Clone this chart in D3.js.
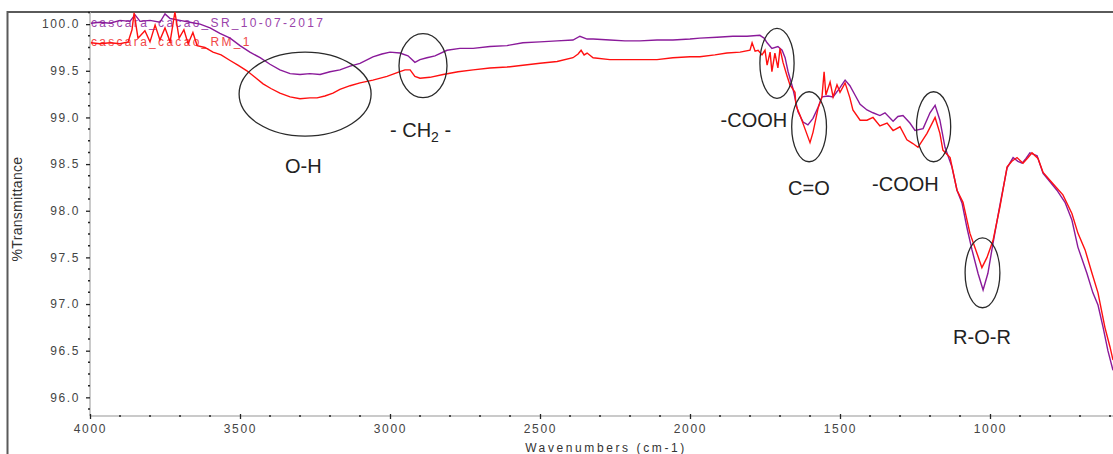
<!DOCTYPE html>
<html>
<head>
<meta charset="utf-8">
<script src="https://cdn.jsdelivr.net/npm/d3@7/dist/d3.min.js"></script>
<style>
  html, body { margin: 0; padding: 0; background: #fff; overflow: hidden; }
  svg { display: block; font-family: "Liberation Sans", Arial, sans-serif; }
</style>
</head>
<body>
<svg id="chart" width="1113" height="454"></svg>
<script>
// FTIR spectra: wavenumber (cm-1) and %Transmittance
const srWavenumber = [3997,3967,3933,3900,3867,3850,3833,3800,3767,3750,3733,3700,3667,3633,3600,3567,3533,3500,3467,3433,3400,3367,3333,3300,3267,3233,3200,3167,3133,3100,3057,3027,3000,2967,2940,2917,2900,2877,2850,2810,2767,2723,2667,2610,2557,2500,2443,2390,2367,2343,2323,2267,2217,2167,2110,2057,2000,1967,1910,1857,1810,1767,1753,1743,1727,1707,1693,1683,1673,1657,1640,1623,1607,1590,1573,1560,1540,1523,1500,1483,1467,1450,1433,1410,1390,1367,1350,1323,1307,1290,1267,1250,1223,1200,1183,1167,1150,1127,1110,1093,1077,1060,1040,1023,1007,990,967,943,923,907,893,880,867,843,823,800,777,750,727,707,677,657,640,623,607,590];
const srTransmittance = [100.01,100.02,100.01,100.04,100.03,100.10,100.03,100.04,100.02,100.11,100.06,100.04,100.02,100.00,99.96,99.90,99.85,99.77,99.70,99.64,99.57,99.51,99.47,99.46,99.47,99.46,99.49,99.51,99.55,99.58,99.65,99.68,99.70,99.69,99.66,99.59,99.62,99.64,99.66,99.72,99.74,99.74,99.76,99.77,99.80,99.81,99.82,99.83,99.87,99.84,99.84,99.83,99.82,99.82,99.83,99.83,99.84,99.85,99.86,99.87,99.87,99.88,99.85,99.80,99.74,99.76,99.72,99.64,99.49,99.31,99.06,98.95,98.92,98.99,99.11,99.22,99.23,99.22,99.32,99.40,99.34,99.24,99.14,99.08,99.05,99.02,99.05,98.96,99.01,99.02,98.94,98.86,98.88,99.05,99.13,98.97,98.68,98.47,98.22,98.08,97.82,97.58,97.33,97.15,97.33,97.65,98.06,98.46,98.57,98.53,98.51,98.56,98.62,98.59,98.40,98.31,98.22,98.09,97.90,97.61,97.33,97.12,96.99,96.75,96.50,96.29];

const rmWavenumber = [3997,3967,3933,3900,3873,3860,3853,3840,3817,3800,3783,3767,3750,3733,3717,3703,3687,3673,3657,3643,3617,3590,3563,3533,3507,3477,3450,3423,3397,3367,3333,3300,3267,3243,3217,3190,3167,3133,3100,3057,3010,2967,2950,2933,2917,2900,2867,2823,2773,2723,2667,2610,2557,2500,2443,2390,2373,2363,2353,2343,2323,2267,2217,2167,2110,2057,2000,1967,1917,1877,1833,1800,1793,1783,1773,1760,1750,1743,1733,1727,1717,1707,1700,1690,1677,1667,1650,1647,1633,1617,1600,1590,1573,1560,1553,1547,1533,1523,1510,1500,1483,1467,1457,1433,1410,1390,1367,1343,1323,1300,1277,1257,1240,1210,1183,1167,1157,1133,1110,1090,1067,1043,1027,1010,990,967,943,927,910,890,873,860,840,823,790,757,727,707,683,660,640,617,600,590];
const rmTransmittance = [99.80,99.79,99.80,99.79,99.81,99.94,100.12,99.85,99.93,99.81,99.99,99.83,99.96,99.81,100.13,99.85,99.94,99.79,99.91,99.77,99.75,99.70,99.67,99.61,99.56,99.50,99.43,99.36,99.31,99.26,99.22,99.20,99.21,99.21,99.23,99.26,99.30,99.34,99.37,99.40,99.44,99.49,99.51,99.51,99.44,99.42,99.43,99.46,99.49,99.51,99.53,99.54,99.56,99.58,99.60,99.64,99.68,99.72,99.67,99.69,99.64,99.62,99.62,99.62,99.62,99.64,99.65,99.65,99.67,99.69,99.70,99.72,99.80,99.71,99.72,99.67,99.72,99.56,99.70,99.49,99.69,99.53,99.74,99.59,99.45,99.35,99.27,99.13,99.02,98.88,98.73,98.84,99.10,99.22,99.49,99.24,99.38,99.22,99.35,99.27,99.37,99.21,99.08,98.97,98.97,99.00,98.91,98.94,98.86,98.90,98.76,98.72,98.68,98.83,99.00,98.83,98.65,98.57,98.22,98.09,97.76,97.54,97.39,97.50,97.68,98.04,98.47,98.53,98.57,98.51,98.57,98.62,98.56,98.41,98.29,98.17,97.97,97.76,97.58,97.33,97.12,96.75,96.54,96.40];

const seriesNames = ["cascara_cacao_SR_10-07-2017", "cascara_cacao_RM_1"];
const seriesColors = ["#8a1a9a", "#ff1010"];

const yTickValues = [96.0, 96.5, 97.0, 97.5, 98.0, 98.5, 99.0, 99.5, 100.0];
const xTickValues = [4000, 3500, 3000, 2500, 2000, 1500, 1000];

// Band assignments: ellipse centre and half-widths in data units, label anchor
const bandLabels = ["O-H", "- CH2 -", "-COOH", "C=O", "-COOH", "R-O-R"];
const bandCenterW = [3283, 2890, 1710, 1603, 1188, 1025];
const bandCenterT = [99.25, 99.555, 99.58, 98.90, 98.90, 97.335];
const bandRadiusW = [220, 80, 57, 58, 57, 58];
const bandRadiusT = [0.45, 0.343, 0.375, 0.375, 0.375, 0.375];
const bandLabelW = [3350, 3000, 1898, 1673, 1393, 1123];
const bandLabelT = [98.40, 98.79, 98.895, 98.166, 98.21, 96.57];

const svg = d3.select("#chart");

const x = d3.scaleLinear().domain([4000, 400]).range([90, 1170]);
const y = d3.scaleLinear().domain([100.13, 95.8]).range([12, 416]);

// outer frame
svg.append("rect")
  .attr("x", 7.5).attr("y", 12).attr("width", 1200).attr("height", 500)
  .attr("fill", "none").attr("stroke", "#5a5a5a").attr("stroke-width", 2);

// legend names, drawn beneath the traces
const legend = svg.append("g");
legend.append("text").attr("x", 91).attr("y", 27)
  .attr("fill", "#9a44aa").attr("font-size", 12).attr("letter-spacing", 2.3)
  .text(seriesNames[0]);
legend.append("text").attr("x", 91).attr("y", 46)
  .attr("fill", "#f04848").attr("font-size", 12).attr("letter-spacing", 2.3)
  .text(seriesNames[1]);

// axes
const axisColor = "#b8b8b8";
const yAxisG = svg.append("g").attr("transform", "translate(90,0)");
yAxisG.append("line").attr("x1", 0).attr("x2", 0).attr("y1", 12).attr("y2", 416)
  .attr("stroke", axisColor).attr("stroke-width", 1.5);
const yMinor = d3.range(95.875, 100.13, 0.125).filter(v => Math.abs((v * 2) - Math.round(v * 2)) > 1e-6);
yAxisG.selectAll(".ymin").data(yMinor).join("line")
  .attr("x1", -2).attr("x2", 0).attr("y1", d => y(d)).attr("y2", d => y(d))
  .attr("stroke", "#222").attr("stroke-width", 1.5);
const yAxis = d3.axisLeft(y).tickValues(yTickValues).tickFormat(d3.format(".1f")).tickSize(4).tickPadding(6);
const yAx = svg.append("g").attr("transform", "translate(90,0)").call(yAxis);
yAx.select(".domain").remove();
yAx.selectAll(".tick line").attr("stroke", "#222").attr("stroke-width", 1.3);
yAx.selectAll(".tick text").attr("fill", "#444").attr("font-size", 12)
  .attr("letter-spacing", 1.6).attr("font-family", "Liberation Sans, Arial, sans-serif");

const xAxisG = svg.append("g").attr("transform", "translate(0,416)");
xAxisG.append("line").attr("x1", 90).attr("x2", 1113).attr("y1", 0).attr("y2", 0)
  .attr("stroke", axisColor).attr("stroke-width", 1.5);
const xMinor = d3.range(3900, 500, -100).filter(v => v % 500 !== 0);
xAxisG.selectAll(".xmin").data(xMinor).join("line")
  .attr("x1", d => x(d)).attr("x2", d => x(d)).attr("y1", -1).attr("y2", 1)
  .attr("stroke", "#222").attr("stroke-width", 1.5);
const xAxis = d3.axisBottom(x).tickValues(xTickValues).tickFormat(d3.format("d")).tickSize(3).tickPadding(5);
const xAx = svg.append("g").attr("transform", "translate(0,416)").call(xAxis);
xAx.select(".domain").remove();
xAx.selectAll(".tick line").attr("stroke", "#222").attr("stroke-width", 1.3).attr("y1", -2);
xAx.selectAll(".tick text").attr("fill", "#444").attr("font-size", 12)
  .attr("letter-spacing", 1.7).attr("font-family", "Liberation Sans, Arial, sans-serif");

// axis titles
svg.append("text").attr("transform", "translate(22,209) rotate(-90)")
  .attr("text-anchor", "middle").attr("fill", "#333").attr("font-size", 14)
  .attr("letter-spacing", 0.3)
  .text("%Transmittance");
svg.append("text").attr("x", 606).attr("y", 452)
  .attr("text-anchor", "middle").attr("fill", "#333").attr("font-size", 12)
  .attr("letter-spacing", 2.6)
  .text("Wavenumbers (cm-1)");

// spectra
svg.append("clipPath").attr("id", "plot-clip")
  .append("rect").attr("x", 90).attr("y", 0).attr("width", 1023).attr("height", 416);

const line = d3.line().x(d => x(d[0])).y(d => y(d[1]));
const srPoints = srWavenumber.map((w, i) => [w, srTransmittance[i]]);
const rmPoints = rmWavenumber.map((w, i) => [w, rmTransmittance[i]]);

const traces = svg.append("g").attr("clip-path", "url(#plot-clip)");
traces.append("path").datum(srPoints).attr("d", line)
  .attr("fill", "none").attr("stroke", seriesColors[0]).attr("stroke-width", 1.4)
  .attr("stroke-linejoin", "miter");
traces.append("path").datum(rmPoints).attr("d", line)
  .attr("fill", "none").attr("stroke", seriesColors[1]).attr("stroke-width", 1.4)
  .attr("stroke-linejoin", "miter");

// band annotations
const bands = svg.append("g");
bandLabels.forEach((label, i) => {
  const cx = x(bandCenterW[i]), cy = y(bandCenterT[i]);
  const rx = Math.abs(x(bandCenterW[i] + bandRadiusW[i]) - cx);
  const ry = Math.abs(y(bandCenterT[i] + bandRadiusT[i]) - cy);
  bands.append("ellipse").attr("cx", cx).attr("cy", cy).attr("rx", rx).attr("ry", ry)
    .attr("fill", "none").attr("stroke", "#2a2a2a").attr("stroke-width", 1.3);
  const t = bands.append("text").attr("x", x(bandLabelW[i])).attr("y", y(bandLabelT[i]))
    .attr("fill", "#222").attr("font-size", 20);
  if (label === "- CH2 -") {
    t.append("tspan").text("- CH");
    t.append("tspan").attr("font-size", 14).attr("dy", 5).text("2");
    t.append("tspan").attr("dy", -5).text(" -");
  } else {
    t.text(label);
  }
});
</script>
</body>
</html>
